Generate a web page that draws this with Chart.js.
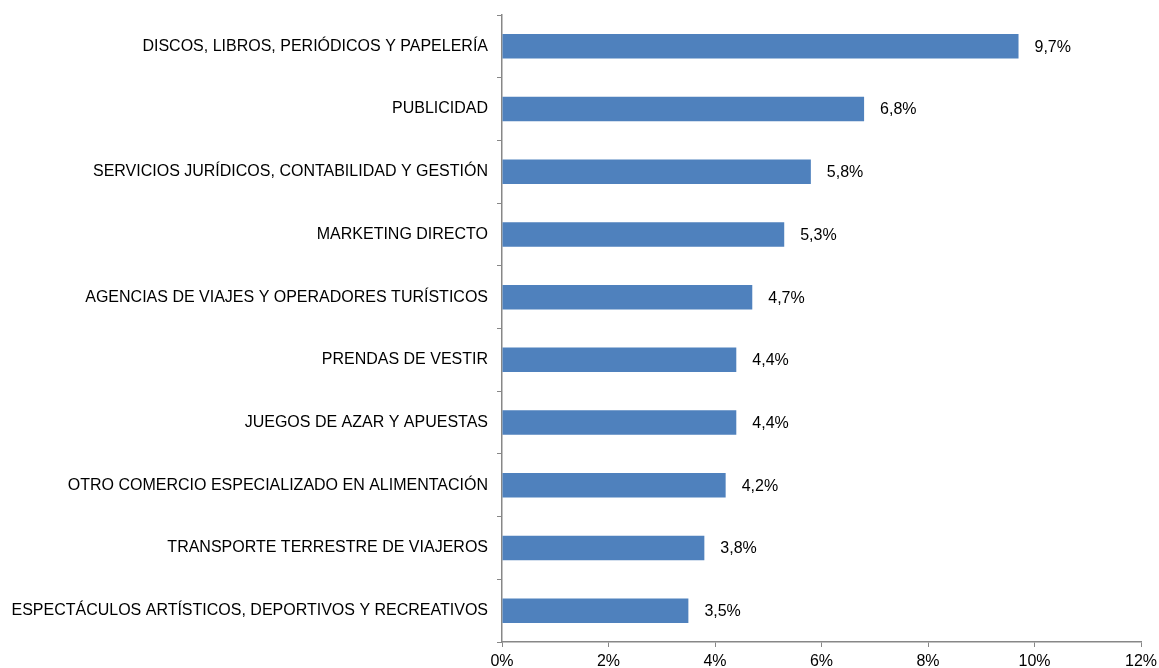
<!DOCTYPE html>
<html>
<head>
<meta charset="utf-8">
<script src="https://cdn.jsdelivr.net/npm/chart.js@4"></script>
<style>
  html, body { margin: 0; padding: 0; background: #fff; }
  #wrap { width: 1159px; height: 668px; }
</style>
</head>
<body>
<div id="wrap"><canvas id="barChart" width="1159" height="668"></canvas></div>
<script>
// Sectores y porcentajes
const sectores = [
    'DISCOS, LIBROS, PERIÓDICOS Y PAPELERÍA',
    'PUBLICIDAD',
    'SERVICIOS JURÍDICOS, CONTABILIDAD Y GESTIÓN',
    'MARKETING DIRECTO',
    'AGENCIAS DE VIAJES Y OPERADORES TURÍSTICOS',
    'PRENDAS DE VESTIR',
    'JUEGOS DE AZAR Y APUESTAS',
    'OTRO COMERCIO ESPECIALIZADO EN ALIMENTACIÓN',
    'TRANSPORTE TERRESTRE DE VIAJEROS',
    'ESPECTÁCULOS ARTÍSTICOS, DEPORTIVOS Y RECREATIVOS'
];
const porcentajes = [9.7, 6.8, 5.8, 5.3, 4.7, 4.4, 4.4, 4.2, 3.8, 3.5];
const ejeX = { min: 0, max: 12, paso: 2 };

const fuente = { family: "'Liberation Sans', Arial, sans-serif", size: 16 };
const gris = '#878787';

// etiquetas de valor al final de cada barra
const etiquetasValor = {
    id: 'etiquetasValor',
    afterDatasetsDraw(chart) {
        const ctx = chart.ctx;
        const meta = chart.getDatasetMeta(0);
        ctx.save();
        ctx.font = fuente.size + 'px ' + fuente.family;
        ctx.fillStyle = '#000';
        ctx.textAlign = 'left';
        ctx.textBaseline = 'middle';
        meta.data.forEach((bar, i) => {
            const txt = porcentajes[i].toFixed(1).replace('.', ',') + '%';
            ctx.fillText(txt, bar.x + 16, bar.y + 1);
        });
        ctx.restore();
    }
};

const ctx = document.getElementById('barChart').getContext('2d');
new Chart(ctx, {
    type: 'bar',
    data: {
        labels: sectores,
        datasets: [{
            data: porcentajes,
            backgroundColor: '#4F81BD',
            borderWidth: 0,
            barPercentage: 0.78,
            categoryPercentage: 0.5
        }]
    },
    options: {
        indexAxis: 'y',
        responsive: false,
        animation: false,
        layout: { padding: { top: 15, right: 18, left: 0, bottom: 0 } },
        plugins: {
            legend: { display: false },
            tooltip: { enabled: false }
        },
        scales: {
            x: {
                min: ejeX.min,
                max: ejeX.max,
                ticks: {
                    stepSize: ejeX.paso,
                    color: '#000',
                    font: fuente,
                    padding: 5,
                    callback: v => v + '%'
                },
                grid: {
                    drawOnChartArea: false,
                    drawTicks: true,
                    tickLength: 5,
                    color: gris
                },
                border: { display: true, color: gris, width: 1.5 },
                afterFit: s => {
                    s.height = 26;
                    s.paddingLeft = 0;
                    s.paddingRight = 0;
                }
            },
            y: {
                ticks: {
                    color: '#000',
                    font: fuente,
                    padding: 9
                },
                grid: {
                    drawOnChartArea: false,
                    drawTicks: true,
                    tickLength: 5,
                    offset: true,
                    color: gris
                },
                border: { display: true, color: gris, width: 1.5 },
                afterFit: s => {
                    s.width = 502;
                    s.paddingTop = 0;
                    s.paddingBottom = 0;
                }
            }
        }
    },
    plugins: [etiquetasValor]
});
</script>
</body>
</html>
